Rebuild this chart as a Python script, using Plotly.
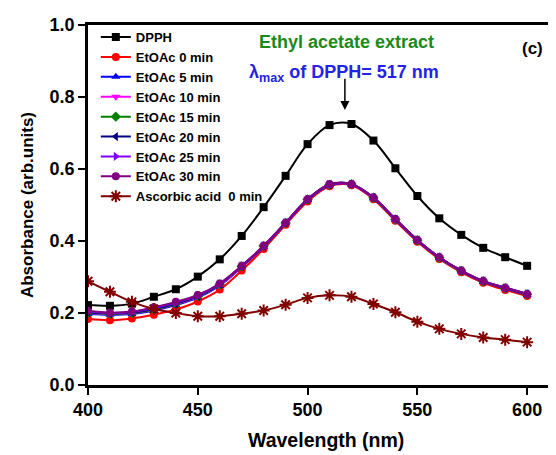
import plotly.graph_objects as go

wavelength = list(range(400, 601, 10))

dpph = [0.222, 0.220, 0.226, 0.245, 0.266, 0.301, 0.349, 0.414, 0.494, 0.581, 0.669,
        0.722, 0.725, 0.679, 0.602, 0.525, 0.463, 0.417, 0.381, 0.355, 0.331]
etoac_0 = [0.183, 0.180, 0.185, 0.195, 0.210, 0.232, 0.265, 0.318, 0.378, 0.445, 0.510,
           0.552, 0.555, 0.516, 0.456, 0.398, 0.350, 0.313, 0.284, 0.264, 0.247]
etoac_5 = [0.197, 0.195, 0.197, 0.207, 0.222, 0.243, 0.276, 0.327, 0.384, 0.449, 0.514,
           0.555, 0.557, 0.519, 0.459, 0.401, 0.353, 0.316, 0.287, 0.268, 0.251]
etoac_10 = [0.200, 0.197, 0.199, 0.209, 0.224, 0.245, 0.278, 0.328, 0.385, 0.450, 0.515,
            0.556, 0.557, 0.520, 0.460, 0.402, 0.354, 0.317, 0.288, 0.269, 0.252]
etoac_15 = [0.201, 0.198, 0.200, 0.210, 0.225, 0.246, 0.279, 0.329, 0.386, 0.450, 0.515,
            0.556, 0.558, 0.520, 0.460, 0.402, 0.354, 0.317, 0.288, 0.269, 0.252]
etoac_20 = [0.202, 0.199, 0.201, 0.211, 0.226, 0.247, 0.280, 0.330, 0.386, 0.451, 0.516,
            0.557, 0.558, 0.521, 0.461, 0.403, 0.355, 0.318, 0.289, 0.270, 0.253]
etoac_25 = [0.204, 0.200, 0.203, 0.214, 0.229, 0.249, 0.281, 0.331, 0.387, 0.451, 0.516,
            0.557, 0.558, 0.521, 0.461, 0.403, 0.355, 0.318, 0.289, 0.270, 0.253]
etoac_30 = [0.206, 0.201, 0.204, 0.216, 0.231, 0.250, 0.282, 0.331, 0.387, 0.451, 0.516,
            0.558, 0.558, 0.521, 0.461, 0.403, 0.355, 0.318, 0.289, 0.270, 0.253]
ascorbic = [0.288, 0.259, 0.231, 0.211, 0.200, 0.191, 0.191, 0.198, 0.207, 0.223, 0.242,
            0.249, 0.245, 0.225, 0.202, 0.176, 0.156, 0.142, 0.132, 0.126, 0.119]

x_ticks = [400, 450, 500, 550, 600]
y_ticks = [0.0, 0.2, 0.4, 0.6, 0.8, 1.0]

series = [
    ("DPPH", dpph, "#000000", "square"),
    ("EtOAc 0 min", etoac_0, "#ff0000", "circle"),
    ("EtOAc 5 min", etoac_5, "#0000ff", "triangle-up"),
    ("EtOAc 10 min", etoac_10, "#ff00ff", "triangle-down"),
    ("EtOAc 15 min", etoac_15, "#008000", "diamond"),
    ("EtOAc 20 min", etoac_20, "#000080", "triangle-left"),
    ("EtOAc 25 min", etoac_25, "#8000ff", "triangle-right"),
    ("EtOAc 30 min", etoac_30, "#800080", "circle"),
]

fig = go.Figure()
for name, vals, color, sym in series:
    fig.add_trace(go.Scatter(
        x=wavelength, y=vals, name=name, mode="lines+markers",
        line=dict(color=color, width=2, shape="spline"),
        marker=dict(symbol=sym, size=8, color=color),
    ))
fig.add_trace(go.Scatter(
    x=wavelength, y=ascorbic, name="Ascorbic acid  0 min", mode="lines+markers",
    line=dict(color="#800000", width=2, shape="spline"),
    marker=dict(symbol="asterisk-open", size=10, color="#800000",
                line=dict(color="#800000", width=2)),
))

font_family = "Liberation Sans, Arial, sans-serif"

fig.add_annotation(x=517, y=0.764, ax=517, ay=0.855, xref="x", yref="y",
                   axref="x", ayref="y", text="", showarrow=True,
                   arrowhead=2, arrowsize=1.2, arrowwidth=1.5, arrowcolor="#000000",
                   standoff=0)
fig.add_annotation(x=0.563, y=0.985, xref="paper", yref="paper",
                   text="Ethyl acetate extract", showarrow=False,
                   font=dict(family=font_family, size=18, color="#1a8a1a", weight="bold"))
fig.add_annotation(x=0.556, y=0.903, xref="paper", yref="paper",
                   text="λ<sub>max</sub> of DPPH= 517 nm", showarrow=False,
                   font=dict(family=font_family, size=18, color="#2323e6", weight="bold"))
fig.add_annotation(x=0.994, y=0.968, xref="paper", yref="paper",
                   text="(c)", showarrow=False,
                   font=dict(family=font_family, size=17, color="#000000", weight="bold"))
fig.add_annotation(x=0.517, y=-0.19, xref="paper", yref="paper",
                   text="Wavelength (nm)", showarrow=False,
                   font=dict(family=font_family, size=19.5, color="#000000", weight="bold"))

axis_common = dict(
    showline=True, linecolor="#000000", linewidth=2.5, mirror=True,
    ticks="outside", ticklen=7, tickwidth=2, tickcolor="#000000",
    showgrid=False, zeroline=False,
    tickfont=dict(family=font_family, size=18, color="#000000", weight="bold"),
)

fig.update_layout(
    width=548, height=447,
    margin=dict(l=80, r=5, t=17, b=70),
    paper_bgcolor="#ffffff", plot_bgcolor="#ffffff",
    xaxis=dict(range=[400, 609.5], tickvals=x_ticks, **axis_common),
    yaxis=dict(range=[0, 1.0], tickvals=y_ticks,
               tickformat=".1f",
               title=dict(text="Absorbance (arb.units)", standoff=12,
                          font=dict(family=font_family, size=17, color="#000000", weight="bold")),
               **axis_common),
    legend=dict(x=0.017, y=1.008, xanchor="left", yanchor="top",
                bgcolor="rgba(0,0,0,0)", borderwidth=0,
                font=dict(family=font_family, size=13, color="#000000", weight="bold"),
                tracegroupgap=0, itemwidth=30),
    showlegend=True,
)

fig.write_html("out.html")
